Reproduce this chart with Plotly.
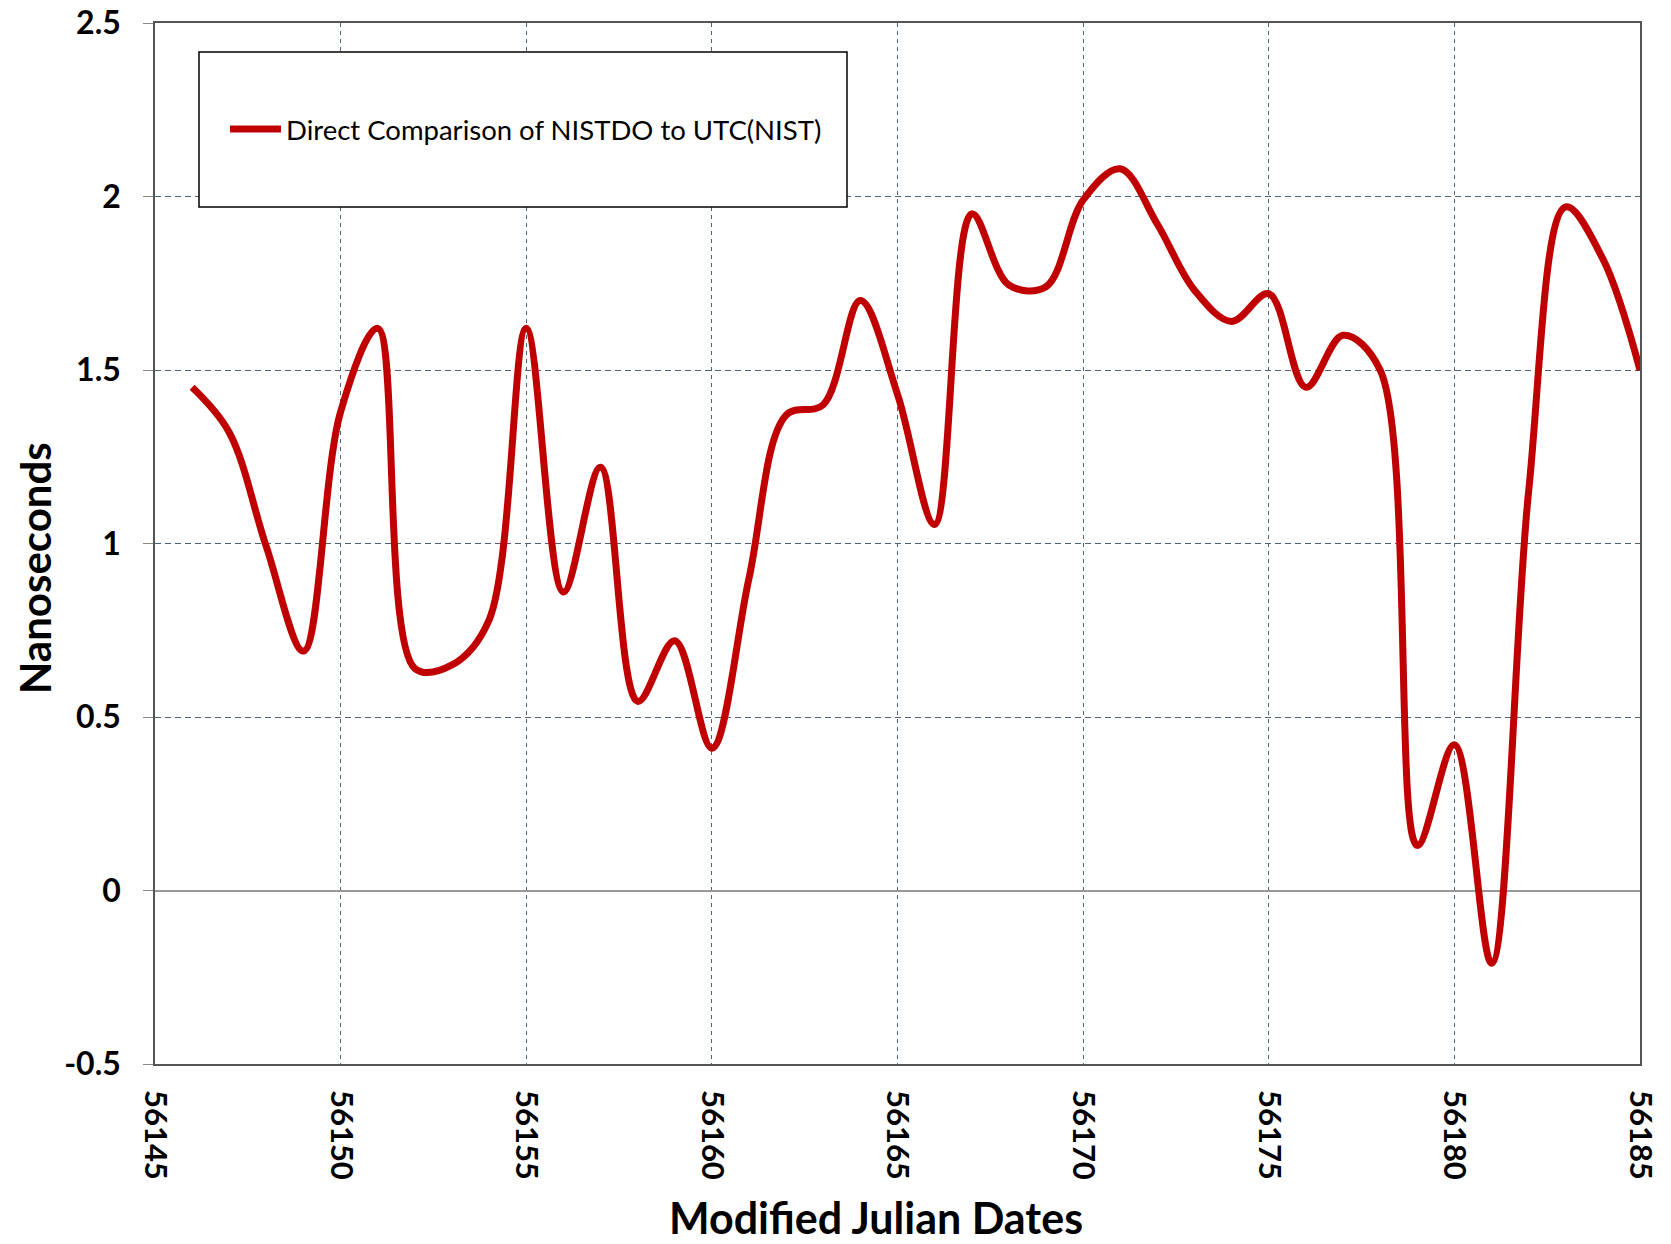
import plotly.graph_objects as go

# ---- data ----
mjd = [56146, 56147, 56148, 56149, 56150, 56151, 56152, 56153, 56154, 56155,
       56156, 56157, 56158, 56159, 56160, 56161, 56162, 56163, 56164, 56165,
       56166, 56167, 56168, 56169, 56170, 56171, 56172, 56173, 56174, 56175,
       56176, 56177, 56178, 56179, 56180, 56181, 56182, 56183, 56184, 56185]
nanoseconds = [1.45, 1.32, 0.99, 0.69, 1.38, 1.62, 0.64, 0.65, 0.78, 1.62,
               0.86, 1.22, 0.545, 0.72, 0.41, 0.90, 1.37, 1.40, 1.70, 1.43,
               1.055, 1.95, 1.745, 1.74, 1.99, 2.08, 1.92, 1.73, 1.64, 1.72,
               1.45, 1.60, 1.50, 0.13, 0.42, -0.21, 1.15, 1.97, 1.82, 1.50]
series_name = "Direct Comparison of NISTDO to UTC(NIST)"
x_title = "Modified Julian Dates"
y_title = "Nanoseconds"

x_tick_vals = [56145, 56150, 56155, 56160, 56165, 56170, 56175, 56180, 56185]
x_tick_text = ["56145", "56150", "56155", "56160", "56165", "56170", "56175", "56180", "56185"]
y_tick_vals = [-0.5, 0, 0.5, 1, 1.5, 2, 2.5]
y_tick_text = ["-0.5", "0", "0.5", "1", "1.5", "2", "2.5"]

# page body has an 8px margin; work in window pixels and convert
OFF = 8
W, H = 1671 - OFF, 1244 - OFF
PL, PR, PT, PB = 155, 1640, 23, 1064   # plot area in window pixels
L, T = PL - OFF, PT - OFF
R, B = W - (PR - OFF), H - (PB - OFF)
RED = "#C00000"

fig = go.Figure()
fig.add_trace(go.Scatter(
    x=mjd, y=nanoseconds, mode="lines", name=series_name,
    line=dict(color=RED, width=7, shape="spline", smoothing=1.0),
    showlegend=False,
))

def px_x(p):
    return (p - PL) / (PR - PL)

def px_y(p):
    return (PB - p) / (PB - PT)

# legend box, sample line and label
fig.add_shape(type="rect", xref="paper", yref="paper",
              x0=px_x(199), x1=px_x(847), y0=px_y(207), y1=px_y(52),
              line=dict(color="#000000", width=1.5), fillcolor="white",
              layer="above")
fig.add_shape(type="line", xref="paper", yref="paper",
              x0=px_x(230), x1=px_x(281), y0=px_y(129), y1=px_y(129),
              line=dict(color=RED, width=7), layer="above")
fig.add_annotation(xref="paper", yref="paper", x=px_x(284), y=px_y(129),
                   xanchor="left", yanchor="middle", showarrow=False,
                   text=series_name,
                   font=dict(family="Lato, sans-serif", size=27.5, color="#000000"))

# axis titles
fig.add_annotation(xref="paper", yref="paper", x=px_x(876), y=px_y(1217),
                   xanchor="center", yanchor="middle", showarrow=False,
                   text="<b>%s</b>" % x_title,
                   font=dict(family="Lato, sans-serif", size=43, color="#000000"))
fig.add_annotation(xref="paper", yref="paper", x=px_x(35), y=px_y(568),
                   xanchor="center", yanchor="middle", showarrow=False, textangle=-90,
                   text="<b>%s</b>" % y_title,
                   font=dict(family="Lato, sans-serif", size=42, color="#000000"))

fig.update_layout(
    width=W, height=H,
    margin=dict(l=L, r=R, t=T, b=B, autoexpand=False),
    paper_bgcolor="white", plot_bgcolor="white",
    font=dict(family="Lato, 'Open Sans', sans-serif", color="#000000"),
    showlegend=False,
    xaxis=dict(
        range=[56145, 56185], tickmode="array", tickvals=x_tick_vals, ticktext=x_tick_text,
        tickangle=90, tickfont=dict(family="Lato, sans-serif", size=31, color="#000000", weight="bold"),
        showgrid=True, gridcolor="#4f6378", griddash="4px,4px", gridwidth=1,
        showline=True, linecolor="#555555", linewidth=1.5, mirror=True,
        ticks="", zeroline=False, automargin=False,
        ticklabelstandoff=18, ticklabeloverflow="allow",
    ),
    yaxis=dict(
        range=[-0.5, 2.5], tickmode="array", tickvals=y_tick_vals, ticktext=y_tick_text,
        tickfont=dict(family="Lato, sans-serif", size=32, color="#000000", weight="bold"),
        showgrid=True, gridcolor="#4f6378", griddash="6px,4px", gridwidth=1,
        showline=True, linecolor="#555555", linewidth=1.5, mirror=True,
        ticks="outside", ticklen=10, tickcolor="#888888",
        zeroline=True, zerolinecolor="#999999", zerolinewidth=1.5,
        ticklabelstandoff=16, automargin=False, ticklabeloverflow="allow",
    ),
)

fig.write_html("out.html")
